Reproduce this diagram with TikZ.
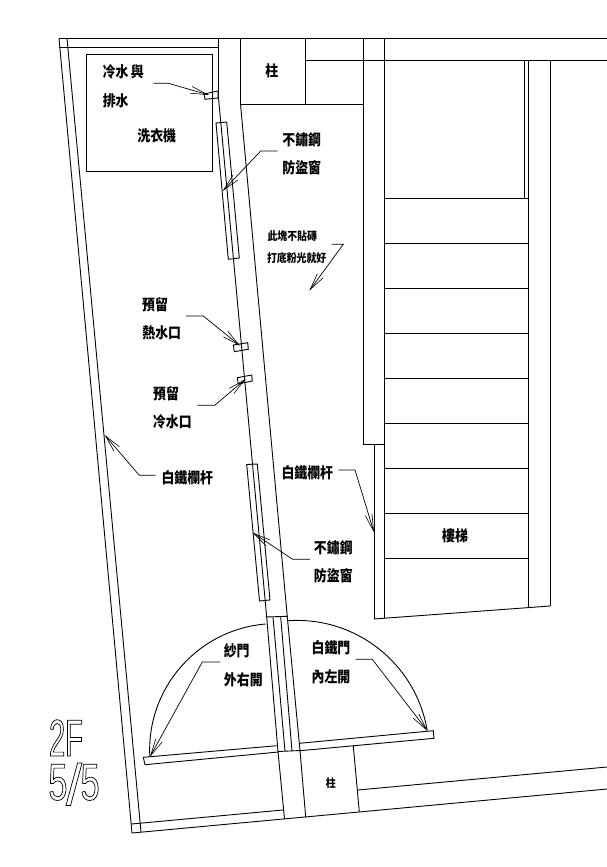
\documentclass[tikz,border=0pt]{standalone}
\usepackage{fontspec}
\usetikzlibrary{arrows.meta}
\newfontfamily\cjk[FakeStretch=0.86]{Noto Sans CJK TC}
\newfontfamily\thinA[FakeStretch=0.56]{Liberation Sans}
\newfontfamily\thinB[FakeStretch=0.66]{Liberation Sans}
\newfontfamily\thinC{Liberation Sans}
\tikzset{
  wall/.style={draw=black,line width=0.9pt,line cap=butt},
  leader/.style={draw=black,line width=0.7pt,-{Straight Barb[length=17pt,width=7pt,line width=0.6pt]}},
  lbl/.style={inner sep=0pt,font=\cjk\bfseries\fontsize{15}{15}\selectfont},
  small/.style={inner sep=0pt,font=\cjk\bfseries\fontsize{11.5}{11.5}\selectfont},
  outl/.style={inner sep=0pt}
}
\newcommand{\outltext}[1]{\special{pdf:code 1 Tr 0.7 w}#1\special{pdf:code 0 Tr}}
\begin{document}
\begin{tikzpicture}[x=1pt,y=-1pt]
\useasboundingbox (0,0) rectangle (607,867);
% left balcony
\draw[wall] (59,38.5) -- (607,38.5);
\draw[wall] (59,47.5) -- (218,47.5);
\draw[wall] (59,38.5) -- (132,833) -- (359,812) -- (607,789);
\draw[wall] (67,38.5) -- (141,832);
\draw[wall] (131.5,824) -- (283,810);
% washer
\draw[wall] (86.5,54.5) rectangle (212.5,171);
\draw[wall] (204,94) -- (218,91) -- (218,98) -- (205,99.3) -- cycle;
% wall
\draw[wall] (218.5,38.5) -- (218.5,98) -- (266.7,617) -- (278,751.5) -- (284.5,819);
\draw[wall] (240.5,38.5) -- (240.5,104) -- (287.3,617) -- (300,750.5) -- (305.7,817);
\draw[wall] (265.7,617) -- (287.3,616.3);
\draw[wall] (273,617) -- (285,751);
\draw[wall] (280.7,617) -- (292,751);
\draw[wall] (278,751.5) -- (300,750.5);
% windows
\draw[wall] (216,123) -- (226.7,122) -- (239.3,258) -- (228.3,259.3) -- cycle;
\draw[wall] (246.7,464.5) -- (257.3,464) -- (270,600) -- (259.5,601) -- cycle;
% outlets
\draw[wall] (233.3,345) -- (247.7,342.7) -- (248.3,349.3) -- (234.3,351.7) -- cycle;
\draw[wall] (237.3,377.7) -- (251.7,375) -- (252.3,381) -- (238.3,384) -- cycle;
% columns and right building
\draw[wall] (305.5,38.5) -- (305.5,104);
\draw[wall] (240.5,104.5) -- (363,104.5);
\draw[wall] (305.5,60.5) -- (607,60.5);
\draw[wall] (363,38.5) -- (363,444.5) -- (384.5,444.5);
\draw[wall] (384.5,38.5) -- (384.5,617.8);
\draw[wall] (374,444.5) -- (374,619);
\draw[wall] (374,619) -- (550,606);
\draw[wall] (528,60.5) -- (528,607.5);
\draw[wall] (524.5,60.5) -- (524.5,198);
\draw[wall] (550,60.5) -- (550,606);
\foreach \yy in {198.5,243.5,288.5,333.5,378.5,423.5,468.5,513.5,558.5}
  \draw[wall] (384.5,\yy) -- (528,\yy);
% doors
\draw[wall] (276.7,745.7) -- (143.3,757.3) -- (145,764.7) -- (278.3,752);
\draw[wall] (299.3,743.3) -- (433.3,730.7) -- (434,738.3) -- (300,750.7);
\draw[wall] (353.3,746) -- (359.3,812);
\draw[wall] (358,790) -- (607,767);
\draw[wall] (265.7,624) arc[start angle=94.7,end angle=183,radius=126.4pt];
\draw[wall] (288.3,620.7) arc[start angle=93.8,end angle=9.6,radius=132pt];
% labels
\node[lbl] (tA) at (123.3,71.7) {冷水\,與};
\node[lbl] (tB) at (115.7,101) {排水};
\node[lbl] (tC) at (156.7,136) {洗衣機};
\node[lbl,font=\cjk\bfseries\fontsize{15}{15}\selectfont] (tD) at (271.7,71) {柱};
\node[lbl] (tE) at (301.7,139.3) {不鏽鋼};
\node[lbl] (tF) at (301.7,167.7) {防盜窗};
\node[small] (tG) at (292.3,235.7) {此塊不貼磚};
\node[small] (tH) at (296.7,257.7) {打底粉光就好};
\node[lbl] (tI) at (155,305) {預留};
\node[lbl] (tJ) at (161.7,333.3) {熱水口};
\node[lbl] (tK) at (166,393.3) {預留};
\node[lbl] (tL) at (172.3,421.7) {冷水口};
\node[lbl] (tM) at (187.3,477.3) {白鐵欄杆};
\node[lbl] (tN) at (307.3,472.7) {白鐵欄杆};
\node[lbl] (tO) at (333.3,547.7) {不鏽鋼};
\node[lbl] (tP) at (333.3,576) {防盜窗};
\node[lbl] (tQ) at (455,536) {樓梯};
\node[lbl] (tR) at (236.7,650.7) {紗門};
\node[lbl] (tS) at (243.3,679.3) {外右開};
\node[lbl] (tT) at (331,647.7) {白鐵門};
\node[lbl] (tU) at (331,676.7) {內左開};
\node[lbl,font=\cjk\bfseries\fontsize{11.5}{11.5}\selectfont] (tV) at (330.7,782.7) {柱};
\node[outl,font=\thinA\fontsize{52}{52}\selectfont,anchor=base] (tW) at (66,756) {\outltext{2F}};
\node[outl,font=\thinB\fontsize{52}{52}\selectfont,anchor=base] (tX) at (74,800) {\outltext{5\kern-1.5pt\raisebox{-5pt}{\thinC\fontsize{58}{58}\selectfont /}\kern-1.5pt 5}};
% leader ends
\coordinate (a1) at (153.3,83.3); \coordinate (a2) at (168.3,83.3); \coordinate (a3) at (209,95);
\coordinate (b1) at (277.6,151); \coordinate (b2) at (260.7,151); \coordinate (b3) at (222.7,191);
\coordinate (c1) at (331.7,244.3); \coordinate (c2) at (343.3,244.3); \coordinate (c3) at (309.3,290.7);
\coordinate (d1) at (186,316); \coordinate (d2) at (203.3,316); \coordinate (d3) at (240,345.7);
\coordinate (e1) at (197.3,405.3); \coordinate (e2) at (214.7,405.3); \coordinate (e3) at (245.7,379);
\coordinate (f1) at (155.7,475.3); \coordinate (f2) at (139.3,475.3); \coordinate (f3) at (104.7,435);
\coordinate (g1) at (338.3,470); \coordinate (g2) at (355,470); \coordinate (g3) at (374,532.3);
\coordinate (h1) at (310,559.3); \coordinate (h2) at (292.7,559.3); \coordinate (h3) at (252.7,532.7);
\coordinate (i1) at (220,662); \coordinate (i2) at (202.3,662); \coordinate (i3) at (150,756.7);
\coordinate (j1) at (355.7,659.3); \coordinate (j2) at (372.3,659.3); \coordinate (j3) at (427.3,730.7);
\foreach \p in {a,b,c,d,e,f,g,h,i,j}
  \draw[leader] (\p1) -- (\p2) -- (\p3);
\end{tikzpicture}
\end{document}
